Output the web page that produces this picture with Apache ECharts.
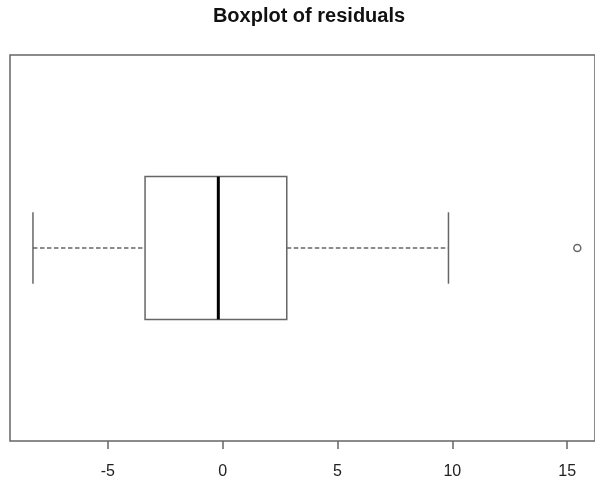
<!DOCTYPE html>
<html>
<head>
<meta charset="utf-8">
<script src="https://cdn.jsdelivr.net/npm/echarts@6/dist/echarts.min.js"></script>
<style>html,body{margin:0;padding:0;background:#fff;}#c{width:595px;height:481px;}</style>
</head>
<body>
<div id="c"></div>
<script>
// Five-number summary of residuals: [lower whisker, Q1, median, Q3, upper whisker]
var boxStats = [-8.26, -3.38, -0.19, 2.79, 9.83];
var outliers = [15.44];
var xTicks = [-5, 0, 5, 10, 15];
var titleText = 'Boxplot of residuals';

var chart = echarts.init(document.getElementById('c'), null, {renderer: 'canvas'});
var HALF = 0.37, CAP = 0.185, CY = 1;
var lineCol = '#666';
var LW = 1.5;

function renderBox(params, api) {
  var lo = api.value(0), q1 = api.value(1), md = api.value(2), q3 = api.value(3), hi = api.value(4);
  var pLo = api.coord([lo, CY]), pQ1 = api.coord([q1, CY + HALF]), pQ1b = api.coord([q1, CY - HALF]);
  var pMd = api.coord([md, CY]), pQ3 = api.coord([q3, CY]), pHi = api.coord([hi, CY]);
  var capT = api.coord([lo, CY + CAP])[1], capB = api.coord([lo, CY - CAP])[1];
  var top = pQ1[1], bot = pQ1b[1], mid = pLo[1];
  var st = {stroke: lineCol, lineWidth: LW, fill: null};
  var dash = {stroke: lineCol, lineWidth: LW, lineDash: [4.5, 2.5], fill: null};
  return {
    type: 'group',
    children: [
      {type: 'line', shape: {x1: pLo[0], y1: mid, x2: pQ1[0], y2: mid}, style: dash},
      {type: 'line', shape: {x1: pQ3[0], y1: mid, x2: pHi[0], y2: mid}, style: dash},
      {type: 'line', shape: {x1: pLo[0], y1: capT, x2: pLo[0], y2: capB}, style: st},
      {type: 'line', shape: {x1: pHi[0], y1: capT, x2: pHi[0], y2: capB}, style: st},
      {type: 'rect', shape: {x: pQ1[0], y: top, width: pQ3[0] - pQ1[0], height: bot - top}, style: {stroke: lineCol, lineWidth: LW, fill: '#fff'}},
      {type: 'line', shape: {x1: pMd[0], y1: top, x2: pMd[0], y2: bot}, style: {stroke: '#000', lineWidth: 3}}
    ]
  };
}

chart.setOption({
  animation: false,
  backgroundColor: '#fff',
  title: {
    text: titleText,
    left: 304, textAlign: 'center', top: 1,
    textStyle: {fontFamily: 'Liberation Sans, Arial, sans-serif', fontWeight: 'bold', fontSize: 20, color: '#111'}
  },
  grid: {left: 10, right: 0, top: 55, bottom: 40, show: true, borderColor: lineCol, borderWidth: LW, backgroundColor: 'transparent'},
  xAxis: {
    type: 'value', min: -9.26, max: 16.21,
    splitLine: {show: false},
    axisLine: {show: false},
    axisTick: {show: true, inside: false, length: 8, customValues: xTicks, lineStyle: {color: lineCol, width: LW}},
    axisLabel: {show: true, customValues: xTicks, margin: 23, fontSize: 16, color: '#222', fontFamily: 'Liberation Sans, Arial, sans-serif'}
  },
  yAxis: {type: 'value', min: 0, max: 2, show: false, splitLine: {show: false}},
  series: [
    {type: 'custom', renderItem: renderBox, data: [boxStats], encode: {x: [0, 1, 2, 3, 4]}, silent: true, clip: false},
    {type: 'scatter', data: outliers.map(function(v){return [v, CY];}), symbol: 'circle', symbolSize: 7,
     itemStyle: {color: '#fff', borderColor: '#444', borderWidth: 1.5}, silent: true}
  ]
});
</script>
</body>
</html>
